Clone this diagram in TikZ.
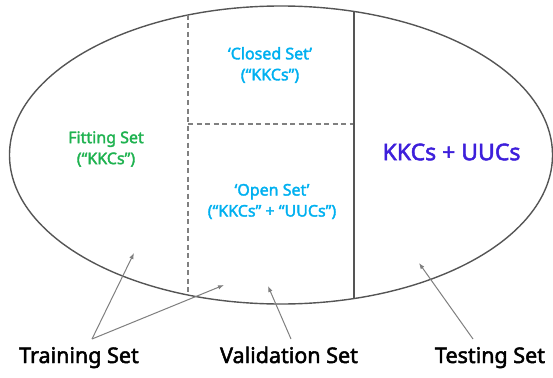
\documentclass[tikz,border=0pt]{standalone}
\usepackage{fontspec}
\setmainfont{Noto Sans}[AutoFakeBold=2.2]
\usetikzlibrary{arrows.meta,shapes.geometric}
\definecolor{fitgreen}{HTML}{1FB250}
\definecolor{setblue}{HTML}{00B0F0}
\definecolor{testpurple}{HTML}{3D1FDB}
\definecolor{edgegray}{HTML}{555555}
\definecolor{dashgray}{HTML}{808080}
\definecolor{arrgray}{HTML}{7F7F7F}
\begin{document}
\begin{tikzpicture}[x=1pt,y=-1pt,
  inner/.style={font=\fontsize{16}{21}\selectfont\bfseries, align=center, inner sep=0pt},
  biglabel/.style={font=\fontsize{23}{27}\selectfont\bfseries, inner sep=0pt},
  setlabel/.style={font=\fontsize{21.5}{25}\selectfont\bfseries, inner sep=0pt, anchor=base},
  divdash/.style={draw=dashgray, line width=1.3pt, dash pattern=on 5pt off 3.5pt},
  divsolid/.style={draw=edgegray, line width=1.3pt},
  pointer/.style={draw=arrgray, line width=1pt, -{Latex[length=6pt,width=4.5pt]}}]
\useasboundingbox (0,0) rectangle (553,377);
% outer ellipse
\node[draw=edgegray, line width=1.4pt, ellipse, minimum width=543pt, minimum height=298pt, inner sep=0pt] (E) at (281,155) {};
% dividers
\coordinate (dtop) at (188,15);
\coordinate (dbot) at (188,295);
\coordinate (stop) at (354,11.5);
\coordinate (sbot) at (354,298.5);
\coordinate (hl) at (188,124);
\coordinate (hr) at (354,124);
\draw[divdash] (dtop) -- (dbot);
\draw[divdash] (hl) -- (hr);
\draw[divsolid] (stop) -- (sbot);
% region texts
\node[inner, text=fitgreen] (fit) at (106,149) {Fitting Set\\(“KKCs”)};
\node[inner, text=setblue] (closed) at (270,65) {‘Closed Set’\\(“KKCs”)};
\node[inner, text=setblue] (open) at (272,201.5) {‘Open Set’\\(“KKCs” + “UUCs”)};
\node[biglabel, text=testpurple] (test) at (451.5,152) {KKCs + UUCs};
% bottom labels
\node[setlabel] (train) at (79,363) {Training Set};
\node[setlabel] (valid) at (289,363) {Validation Set};
\node[setlabel] (testing) at (490,363) {Testing Set};
% pointer ends
\coordinate (otrain) at (92,339);
\coordinate (ovalid) at (291,339);
\coordinate (otest) at (473,339);
\coordinate (ttrainA) at (134,253);
\coordinate (ttrainB) at (224,285);
\coordinate (tvalid) at (268,286);
\coordinate (ttest) at (419,263);
\draw[pointer] (otrain) -- (ttrainA);
\draw[pointer] (otrain) -- (ttrainB);
\draw[pointer] (ovalid) -- (tvalid);
\draw[pointer] (otest) -- (ttest);
\end{tikzpicture}
\end{document}
